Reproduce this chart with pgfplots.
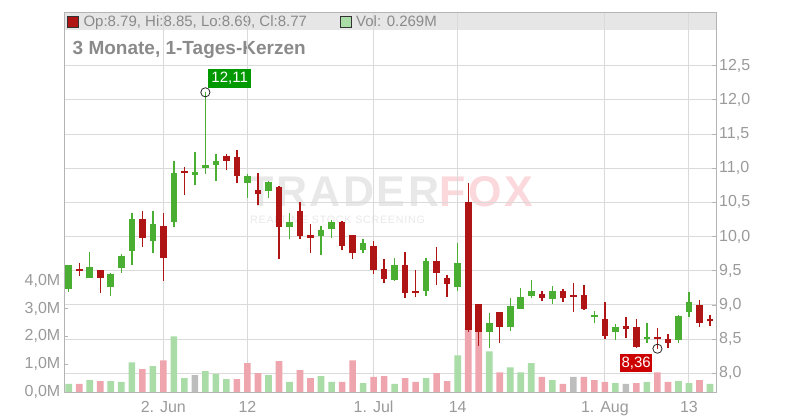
\documentclass[border=0pt]{standalone}
\usepackage{pgfplots}
\pgfplotsset{compat=1.18}
\usepackage{pgfplotstable}
\usepackage{fontspec}
\setmainfont{Liberation Sans}
\definecolor{cgreen}{HTML}{4AAE32}
\definecolor{cred}{HTML}{B01515}
\definecolor{vgreen}{HTML}{A9DCA6}
\definecolor{vred}{HTML}{EFA5AD}
\definecolor{vgray}{HTML}{BDBDBD}
\definecolor{gridc}{HTML}{DADADA}
\definecolor{axc}{HTML}{B4B4B4}
\definecolor{labc}{HTML}{9A9A9A}
\definecolor{bandc}{HTML}{E6E6E6}
\definecolor{txtc}{HTML}{8A8A8A}
\definecolor{lblgreen}{HTML}{009900}
\definecolor{lblred}{HTML}{CC0000}
\definecolor{wmgray}{HTML}{E8E8E8}
\definecolor{wmred}{HTML}{FBD8DB}

\pgfplotstableread{
i O H L C
0 9.23 9.59 9.19 9.58
2 9.39 9.78 9.39 9.56
4 9.26 9.47 9.13 9.45
5 9.54 9.74 9.47 9.71
6 9.79 10.35 9.58 10.25
8 9.94 10.38 9.76 10.19
10 10.22 11.11 10.14 10.93
12 10.90 11.24 10.76 10.95
13 11.01 12.11 10.92 11.05
14 11.04 11.21 10.82 11.11
17 10.79 10.92 10.57 10.88
19 10.66 10.82 10.57 10.80
21 10.14 10.34 9.96 10.22
24 10.01 10.16 9.73 10.10
25 10.11 10.24 9.98 10.21
28 9.80 9.97 9.76 9.91
31 9.36 9.69 9.35 9.58
34 9.20 9.69 9.13 9.64
37 9.26 9.90 9.20 9.62
40 8.60 8.88 8.37 8.73
42 8.68 9.10 8.62 8.99
43 8.94 9.25 8.94 9.12
44 9.13 9.36 9.10 9.21
46 9.09 9.28 9.01 9.21
50 8.83 8.91 8.73 8.86
52 8.60 8.72 8.48 8.67
55 8.51 8.73 8.45 8.53
58 8.48 8.85 8.45 8.84
59 8.90 9.19 8.83 9.05
}\candleG

\pgfplotstableread{
i O H L C
1 9.53 9.62 9.42 9.49
3 9.51 9.51 9.17 9.39
7 10.26 10.37 9.85 9.98
9 10.15 10.34 9.35 9.69
11 10.96 11.02 10.61 10.94
15 11.18 11.21 10.98 11.11
16 11.17 11.27 10.79 10.88
18 10.68 10.93 10.46 10.63
20 10.72 10.74 9.67 10.14
22 10.37 10.51 9.96 10.01
23 10.02 10.18 9.76 9.98
26 10.22 10.23 9.80 9.86
27 10.02 10.02 9.67 9.76
29 9.86 9.94 9.45 9.51
30 9.53 9.67 9.32 9.38
32 9.58 9.77 9.10 9.18
33 9.21 9.51 9.12 9.17
35 9.64 9.85 9.29 9.47
36 9.39 9.44 9.12 9.31
38 10.50 10.79 8.61 8.63
39 9.01 9.02 8.40 8.60
41 8.90 8.90 8.45 8.68
45 9.16 9.20 9.06 9.10
47 9.20 9.24 9.04 9.10
48 9.14 9.32 8.90 9.11
49 9.14 9.29 8.92 8.94
51 8.79 9.05 8.50 8.55
53 8.68 8.82 8.52 8.66
54 8.67 8.80 8.37 8.38
56 8.52 8.67 8.36 8.50
57 8.50 8.57 8.37 8.45
60 9.00 9.07 8.67 8.73
61 8.79 8.85 8.69 8.77
}\candleR

\pgfplotstableread{
i g r n
0 0.29 0 0
1 0 0.29 0
2 0.43 0 0
3 0 0.39 0
4 0.39 0 0
5 0.36 0 0
6 1.07 0 0
7 0 0.82 0
8 0.93 0 0
9 0 1.14 0
10 2.00 0 0
11 0.50 0 0
12 0 0 0.61
13 0.75 0 0
14 0.64 0 0
15 0.46 0 0
16 0 0.46 0
17 0 1.04 0
18 0 0.68 0
19 0.61 0 0
20 0 1.11 0
21 0.36 0 0
22 0 0.79 0
23 0 0.50 0
24 0.57 0 0
25 0.36 0 0
26 0 0.36 0
27 0 1.14 0
28 0.32 0 0
29 0 0.54 0
30 0 0.57 0
31 0.29 0 0
32 0 0.50 0
33 0 0.36 0
34 0.50 0 0
35 0 0.68 0
36 0 0.39 0
37 1.32 0 0
38 0 2.30 0
39 0 2.20 0
40 1.46 0 0
41 0 0.71 0
42 0.89 0 0
43 0.71 0 0
44 1.04 0 0
45 0 0.54 0
46 0.43 0 0
47 0 0.29 0
48 0 0 0.54
49 0 0.54 0
50 0 0.43 0
51 0 0.36 0
52 0.32 0 0
53 0 0 0.29
54 0 0.32 0
55 0.36 0 0
56 0 0.71 0
57 0 0.36 0
58 0.39 0 0
59 0.32 0 0
60 0 0.43 0
61 0.29 0 0
}\vols

\pgfplotsset{base/.style={scale only axis, width=652pt, height=380pt,
  at={(0pt,0pt)}, anchor=south west, xmin=-0.45, xmax=61.57}}

\begin{document}
\begin{tikzpicture}
\path[use as bounding box] (-64pt,-28pt) rectangle (736pt,392pt);
% header band
\fill[bandc] (0pt,362pt) rectangle (652pt,380pt);
\draw[axc, line width=0.8pt] (0pt,380pt) -- (652pt,380pt);
% watermark
\node[anchor=base west, inner sep=0pt, font=\fontsize{43}{43}\selectfont\bfseries\addfontfeature{LetterSpace=6}] at (183pt,185.3pt)
  {\textcolor{wmgray}{TRADER}\textcolor{wmred}{FOX}};
\node[anchor=base west, inner sep=0pt, font=\fontsize{10.7}{11}\selectfont\addfontfeature{LetterSpace=7}, text=wmgray] at (186pt,168.7pt)
  {REALTIME STOCK SCREENING};
% header text
\fill[cred, draw=black!80, line width=0.6pt] (3.7pt,364.7pt) rectangle (14.3pt,375.3pt);
\node[anchor=base west, inner sep=0pt, text=txtc, font=\fontsize{15}{15}\selectfont] at (19.3pt,365.3pt)
  {Op:8.79, Hi:8.85, Lo:8.69, Cl:8.77};
\fill[vgreen, draw=black!80, line width=0.6pt] (276.7pt,364.7pt) rectangle (287.3pt,375.3pt);
\node[anchor=base west, inner sep=0pt, text=txtc, font=\fontsize{15}{15}\selectfont] at (292pt,365.3pt)
  {Vol: 0.269M};
\node[anchor=base west, inner sep=0pt, text=txtc, font=\fontsize{19}{19}\selectfont\bfseries] at (8.5pt,337.7pt)
  {3 Monate, 1-Tages-Kerzen};

% axis 1: frame, grid, price ticks
\begin{axis}[base, ymin=7.7265, ymax=13.285,
  axis line style={axc, line width=0.8pt},
  ytick={8,8.5,...,12.5}, yticklabel pos=right, ytick pos=right,
  xtick={9,17,29,37,51,59}, xticklabels={2. Jun,12,1. Jul,14,1. Aug,13}, xtick pos=bottom,
  tick align=inside, major tick length=4pt, tick style={axc, line width=0.8pt},
  grid=major, major grid style={gridc, line width=1pt},
  yticklabel style={font=\fontsize{16}{16}\selectfont, text=labc, inner sep=0pt, anchor=west, xshift=3pt},
  xticklabel style={font=\fontsize{16}{16}\selectfont, text=labc, inner sep=0pt, anchor=north, yshift=-9pt},
  /pgf/number format/use comma, /pgf/number format/fixed, /pgf/number format/fixed zerofill,
  /pgf/number format/precision=1, /pgf/number format/assume math mode=true]
\addplot[draw=none, mark=none] coordinates {(0,9) (61,9)};
\end{axis}

% axis 2: volume
\begin{axis}[base, ymin=0, ymax=13.67, axis line style={draw=none},
  xtick=\empty, ytick={0,1,2,3,4}, yticklabels={{0,0M},{1,0M},{2,0M},{3,0M},{4,0M}},
  ytick pos=left, tick align=inside, major tick length=4pt, tick style={axc, line width=0.8pt},
  yticklabel style={font=\fontsize{16}{16}\selectfont, text=labc, inner sep=0pt, anchor=east, xshift=-3.5pt}]
\addplot[ybar, bar width=6.6pt, bar shift=0pt, fill=vgreen, draw=none] table[x=i, y=g] {\vols};
\addplot[ybar, bar width=6.6pt, bar shift=0pt, fill=vred, draw=none] table[x=i, y=r] {\vols};
\addplot[ybar, bar width=6.6pt, bar shift=0pt, fill=vgray, draw=none] table[x=i, y=n] {\vols};
\end{axis}

% axis 3: candles
\begin{axis}[base, ymin=7.7265, ymax=13.285, hide axis]
\addplot[draw=none, mark=none, error bars/.cd, y dir=both, y explicit, error mark=none,
  error bar style={draw=cgreen, line width=1.4pt}]
  table[x=i, y expr=(\thisrow{H}+\thisrow{L})/2, y error expr=(\thisrow{H}-\thisrow{L})/2] {\candleG};
\addplot[draw=none, mark=none, error bars/.cd, y dir=both, y explicit, error mark=none,
  error bar style={draw=cgreen, line width=6.6pt}]
  table[x=i, y expr=(\thisrow{O}+\thisrow{C})/2, y error expr={max(abs(\thisrow{C}-\thisrow{O})/2,0.015)}] {\candleG};
\addplot[draw=none, mark=none, error bars/.cd, y dir=both, y explicit, error mark=none,
  error bar style={draw=cred, line width=1.4pt}]
  table[x=i, y expr=(\thisrow{H}+\thisrow{L})/2, y error expr=(\thisrow{H}-\thisrow{L})/2] {\candleR};
\addplot[draw=none, mark=none, error bars/.cd, y dir=both, y explicit, error mark=none,
  error bar style={draw=cred, line width=6.6pt}]
  table[x=i, y expr=(\thisrow{O}+\thisrow{C})/2, y error expr={max(abs(\thisrow{C}-\thisrow{O})/2,0.015)}] {\candleR};
\addplot[only marks, mark=o, mark size=4.6pt, mark options={draw=black!85, line width=0.8pt}]
  coordinates {(13,12.11) (56,8.36)};
\node[fill=lblgreen, text=white, inner xsep=3.2pt, inner ysep=2.5pt, text height=11pt, text depth=3pt,
  anchor=south west, font=\fontsize{15}{15}\selectfont] at ([xshift=2.7pt, yshift=4.6pt]axis cs:13,12.11) {12,11};
\node[fill=lblred, text=white, inner xsep=1.5pt, inner ysep=2.2pt, text height=11pt, text depth=3pt,
  anchor=north east, font=\fontsize{15}{15}\selectfont] at ([xshift=-5pt, yshift=-5pt]axis cs:56,8.36) {8,36};
\end{axis}
\end{tikzpicture}
\end{document}
